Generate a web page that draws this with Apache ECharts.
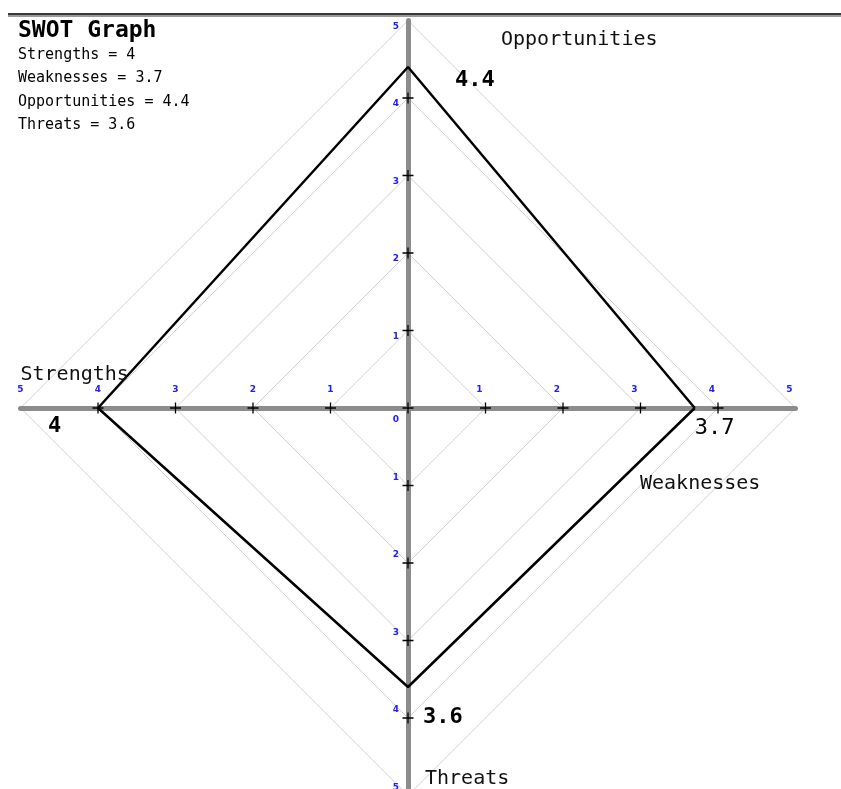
<!DOCTYPE html>
<html>
<head>
    <meta charset="utf-8"/>
    <title>SWOT Graph</title>
    <style type="text/css">
        html, body { margin: 0; padding: 0; background: #fff; overflow: hidden; }
        /* a bit taller than the window so the lowest diamond can run off the bottom */
        #main { width: 841px; height: 800px; }
    </style>
    <script type="text/javascript" src="https://cdn.jsdelivr.net/npm/echarts@6/dist/echarts.min.js"></script>
</head>
<body>
<div id="main"></div>
<script type="text/javascript">
    // chart data
    var categories = ['Strengths', 'Weaknesses', 'Opportunities', 'Threats'];
    var scores = [4, 3.7, 4.4, 3.6];
    var gridLevels = [1, 2, 3, 4, 5];
    var tickValues = [1, 2, 3, 4];
    var tickLabels = [1, 2, 3, 4, 5];

    // which way each quadrant arm points (x, y)
    var dirs = {
        Strengths: [-1, 0],
        Weaknesses: [1, 0],
        Opportunities: [0, 1],
        Threats: [0, -1]
    };
    var font = '"DejaVu Sans Mono", monospace';

    var myChart = echarts.init(document.getElementById('main'));

    // diamonds for the grid
    var gridSeries = gridLevels.map(function (l) {
        return {
            type: 'line',
            silent: true,
            symbol: 'none',
            z: -1,
            lineStyle: {color: '#d0d0d0', width: 1},
            data: [[l, 0], [0, l], [-l, 0], [0, -l], [l, 0]]
        };
    });

    // polygon: right, top, left, bottom
    var order = ['Weaknesses', 'Opportunities', 'Strengths', 'Threats', 'Weaknesses'];
    var polyData = order.map(function (c) {
        var v = scores[categories.indexOf(c)];
        return [dirs[c][0] * v, dirs[c][1] * v];
    });

    // "+" marks on the axes
    var crossData = [[0, 0]];
    categories.forEach(function (c) {
        tickValues.forEach(function (t) {
            crossData.push([dirs[c][0] * t, dirs[c][1] * t]);
        });
    });

    // little blue numbers
    var tickOffset = {
        Strengths: [0, -18],
        Weaknesses: [-6, -18],
        Opportunities: [-12, 6],
        Threats: [-12, -8]
    };
    var tickLabelData = [{value: [0, 0], name: '0', label: {offset: [-12, 12]}}];
    categories.forEach(function (c) {
        tickLabels.forEach(function (t) {
            tickLabelData.push({
                value: [dirs[c][0] * t, dirs[c][1] * t],
                name: String(t),
                label: {offset: tickOffset[c]}
            });
        });
    });

    // score labels next to each corner
    var valueOffset = {
        Strengths: [-50, 18],
        Weaknesses: [0, 20],
        Opportunities: [47, 13],
        Threats: [15, 30]
    };
    var valueData = categories.map(function (c, i) {
        return {
            value: [dirs[c][0] * scores[i], dirs[c][1] * scores[i]],
            name: String(scores[i]),
            label: {offset: valueOffset[c], fontWeight: scores[i] === 3.7 ? 'normal' : 'bold'}
        };
    });

    // quadrant names near axis ends
    var nameOffset = {
        Strengths: [0, -33],
        Weaknesses: [-155.5, 76],
        Opportunities: [93, 19.5],
        Threats: [17, -16.5]
    };
    var nameData = categories.map(function (c) {
        return {
            value: [dirs[c][0] * 5, dirs[c][1] * 5],
            name: c,
            label: {offset: nameOffset[c]}
        };
    });

    var subtext = categories.map(function (c, i) {
        return c + ' = ' + scores[i];
    }).join('\n');

    var option = {
        animation: false,
        title: {
            text: 'SWOT Graph',
            subtext: subtext,
            left: 18,
            top: 20,
            padding: 0,
            itemGap: 0,
            textStyle: {fontFamily: font, fontSize: 23, fontWeight: 'bold', color: '#000', lineHeight: 22},
            subtextStyle: {fontFamily: font, fontSize: 15, color: '#000', lineHeight: 23.5}
        },
        graphic: [
            {type: 'rect', shape: {x: 8, y: 13, width: 833, height: 2}, style: {fill: '#3a3a3a'}},
            {type: 'rect', shape: {x: 8, y: 15, width: 833, height: 2}, style: {fill: '#9a9a9a'}}
        ],
        grid: {left: 20.5, top: 20.5, width: 775, height: 775},
        xAxis: {
            type: 'value', min: -5, max: 5,
            axisLine: {onZero: true, lineStyle: {color: '#8c8c8c', width: 5}},
            axisTick: {show: false}, axisLabel: {show: false}, splitLine: {show: false}
        },
        yAxis: {
            type: 'value', min: -5, max: 5,
            axisLine: {onZero: true, lineStyle: {color: '#8c8c8c', width: 5}},
            axisTick: {show: false}, axisLabel: {show: false}, splitLine: {show: false}
        },
        series: gridSeries.concat([
            {
                type: 'line',
                silent: true,
                symbol: 'none',
                z: 3,
                lineStyle: {color: '#000', width: 2.5},
                data: polyData
            },
            {
                type: 'scatter',
                silent: true,
                z: 4,
                symbol: 'path://M0,5.5L11,5.5M5.5,0L5.5,11',
                symbolSize: 11,
                itemStyle: {color: 'none', borderColor: '#000', borderWidth: 1.3, opacity: 1},
                data: crossData
            },
            {
                type: 'scatter',
                silent: true,
                symbolSize: 0,
                z: 5,
                itemStyle: {opacity: 1},
                label: {
                    show: true, position: 'inside', formatter: '{b}',
                    fontFamily: 'DejaVu Sans', fontSize: 9, fontWeight: 'bold', color: '#2020ff'
                },
                data: tickLabelData
            },
            {
                type: 'scatter',
                silent: true,
                symbolSize: 0,
                z: 5,
                itemStyle: {opacity: 1},
                label: {
                    show: true, position: 'inside', formatter: '{b}', align: 'left', verticalAlign: 'middle',
                    fontFamily: font, fontSize: 22, color: '#000'
                },
                data: valueData
            },
            {
                type: 'scatter',
                silent: true,
                symbolSize: 0,
                z: 5,
                itemStyle: {opacity: 1},
                label: {
                    show: true, position: 'inside', formatter: '{b}', align: 'left', verticalAlign: 'middle',
                    fontFamily: font, fontSize: 20, color: '#111'
                },
                data: nameData
            }
        ])
    };

    myChart.setOption(option);
</script>
</body>
</html>
